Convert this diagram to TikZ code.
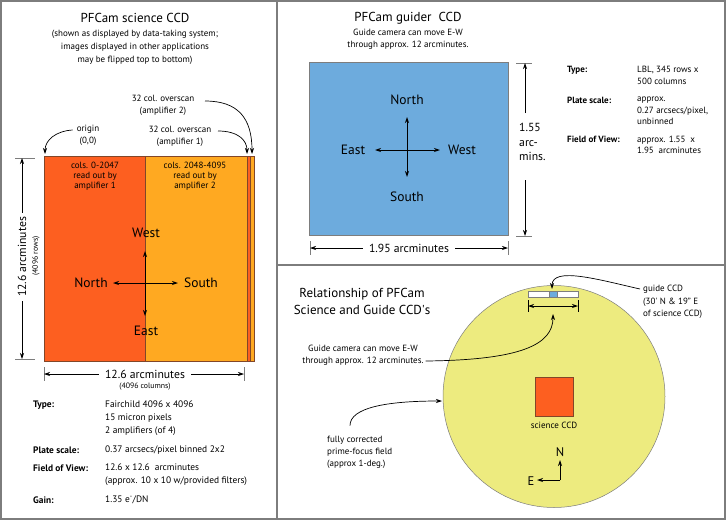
\documentclass[tikz,border=0pt]{standalone}
\usepackage{fontspec}
\setmainfont{PT Sans}
\usetikzlibrary{arrows.meta}
\definecolor{scired}{RGB}{253,95,32}
\definecolor{sciorange}{RGB}{255,169,33}
\definecolor{guideblue}{RGB}{109,171,221}
\definecolor{fieldyellow}{RGB}{237,235,127}
\definecolor{framegray}{RGB}{125,125,125}
\definecolor{ccdedge}{RGB}{130,70,40}

\begin{document}
\begin{tikzpicture}[x=1pt, y=-1pt,
    every node/.style={inner sep=0pt},
    ttl/.style={font=\fontsize{13}{15}\selectfont, align=center},
    txt/.style={font=\fontsize{9}{12}\selectfont, align=center},
    info/.style={font=\fontsize{9.4}{13}\selectfont, align=left, anchor=west},
    infohead/.style={info, font=\fontsize{9.4}{13}\selectfont\bfseries},
    ginfo/.style={font=\fontsize{9}{11.5}\selectfont, align=left, anchor=west},
    ginfohead/.style={ginfo, font=\fontsize{9}{11.5}\selectfont\bfseries},
    dirlbl/.style={font=\fontsize{13.5}{15}\selectfont},
    dimlbl/.style={font=\fontsize{11.7}{14.5}\selectfont},
    arr/.style={-{Stealth[length=6pt,width=4pt]}, line width=0.7pt},
    compass/.style={{Stealth[length=6pt,width=4pt]}-{Stealth[length=6pt,width=4pt]}, line width=0.9pt},
    tick/.style={line width=0.5pt, framegray},
    ccd/.style={draw=ccdedge, line width=0.6pt}]

\useasboundingbox (0,0) rectangle (727,525);

% panels
\draw[framegray, line width=1.2pt] (1,1) rectangle (725,519);
\draw[framegray, line width=1.2pt] (277,1) -- (277,519);
\draw[framegray, line width=1.2pt] (277,265) -- (725,265);

%%% science CCD
\node[ttl] (scititle) at (135,18) {PFCam science CCD};
\node[txt, font=\fontsize{9}{13}\selectfont] (scinote) at (135,47) {(shown as displayed by data-taking system;\\images displayed in other applications\\may be flipped top to bottom)};

\fill[scired]    (44,156) rectangle (145,361);
\fill[sciorange] (145,156) rectangle (247,361);
\fill[scired]    (247,156) rectangle (250,361);
\fill[sciorange] (250,156) rectangle (254,361);
\draw[ccd] (44,156) rectangle (254,361);
\draw[ccd] (145,156) -- (145,361);
\draw[ccd] (247,156) -- (247,361) (250,156) -- (250,361);

\node[txt, font=\fontsize{9}{9.7}\selectfont] (amp1) at (95,176) {cols. 0-2047\\read out by\\amplifier 1};
\node[txt, font=\fontsize{9}{9.7}\selectfont] (amp2) at (195,176) {cols. 2048-4095\\read out by\\amplifier 2};

\node[txt] (ov2) at (163,105) {32 col. overscan\\(amplifier 2)};
\node[txt] (ov1) at (180,136) {32 col. overscan\\(amplifier 1)};
\node[txt] (origin) at (88,135) {origin\\(0,0)};
\coordinate (ov2 tip) at (252,154);
\coordinate (ov1 tip) at (247,154);
\coordinate (origin tip) at (45,154);
\draw[arr] (205,101) .. controls (238,101) and (252,118) .. (ov2 tip);
\draw[arr] (218,131) .. controls (238,131) and (247,140) .. (ov1 tip);
\draw[arr] ([xshift=-4pt,yshift=5pt]origin.west) .. controls (56,131) and (45,140) .. (origin tip);

% compass
\node[dirlbl] (sW) at (146,233) {West};
\node[dirlbl] (sE) at (146,331) {East};
\node[dirlbl] (sN) at (91,283) {North};
\node[dirlbl] (sS) at (201,283) {South};
\coordinate (sup) at (145,251);
\coordinate (sdown) at (145,316);
\coordinate (sleft) at (113,283);
\coordinate (sright) at (178,283);
\draw[compass] (sup) -- (sdown);
\draw[compass] (sleft) -- (sright);

% dimensions
\draw[tick] (15,158) -- (35,158) (15,359) -- (35,359);
\node[dimlbl, rotate=90] (sciv) at (22,257) {12.6 arcminutes};
\node[font=\fontsize{7.8}{9}\selectfont, rotate=90] (sciv2) at (36,256) {(4096 rows)};
\draw[arr] ([yshift=4pt]sciv.east) -- (22,158);
\draw[arr] ([yshift=-4pt]sciv.west) -- (22,359);

\draw[tick] (44,367) -- (44,381) (244,367) -- (244,381);
\node[dimlbl] (scih) at (145,374) {12.6 arcminutes};
\node[font=\fontsize{7.8}{9}\selectfont] (scih2) at (145,387) {(4096 columns)};
\draw[arr] ([xshift=-6pt]scih.west) -- (44,374);
\draw[arr] ([xshift=6pt]scih.east) -- (244,374);

% science info
\node[infohead] (t1) at (33,405) {Type:};
\node[info] (v1) at (105,418) {Fairchild 4096 x 4096\\15 micron pixels\\2 amplifiers (of 4)};
\node[infohead] (t2) at (33,450) {Plate scale:};
\node[info] (v2) at (105,450) {0.37 arcsecs/pixel binned 2x2};
\node[infohead] (t3) at (33,468) {Field of View:};
\node[info] (v3) at (105,474.5) {12.6 x 12.6\ \ arcminutes\\(approx. 10 x 10 w/provided filters)};
\node[infohead] (t4) at (33,500) {Gain:};
\node[info] (v4) at (105,500) {1.35 e\textsuperscript{-}/DN};

%%% guider CCD
\node[ttl] (gtitle) at (408,18) {PFCam guider\ \ CCD};
\node[txt] (gnote) at (408,39) {Guide camera can move E-W\\through approx. 12 arcminutes.};
\fill[guideblue] (309,62) rectangle (508,235);
\draw[framegray, line width=0.6pt] (309,62) rectangle (508,235);

\node[dirlbl] (gN) at (407,100) {North};
\node[dirlbl] (gS) at (407,197) {South};
\node[dirlbl] (gE) at (353,150) {East};
\node[dirlbl] (gW) at (462,150) {West};
\coordinate (gup) at (407,117);
\coordinate (gdown) at (407,177);
\coordinate (gleft) at (375,150);
\coordinate (gright) at (440,150);
\draw[compass] (gup) -- (gdown);
\draw[compass] (gleft) -- (gright);

\draw[tick] (516,63) -- (532,63) (516,236) -- (532,236);
\node[dimlbl, align=left, anchor=west, font=\fontsize{11.7}{14.5}\selectfont] (gv) at (519,142) {1.55\\arc-\\mins.};
\coordinate (gvtop) at (525,63);
\coordinate (gvbot) at (525,236);
\draw[arr] (525,113) -- (gvtop);
\draw[arr] (525,180) -- (gvbot);

\draw[tick] (310,241) -- (310,255) (508,241) -- (508,255);
\node[dimlbl] (gh) at (409,248) {1.95 arcminutes};
\draw[arr] ([xshift=-6pt]gh.west) -- (310,248);
\draw[arr] ([xshift=6pt]gh.east) -- (508,248);

% guider info
\node[ginfohead] (gt1) at (567,70) {Type:};
\node[ginfo] (gv1) at (637,75.5) {LBL, 345 rows x\\500 columns};
\node[ginfohead] (gt2) at (567,100) {Plate scale:};
\node[ginfo] (gv2) at (637,111) {approx.\\0.27 arcsecs/pixel,\\unbinned};
\node[ginfohead] (gt3) at (567,139) {Field of View:};
\node[ginfo] (gv3) at (637,145) {approx. 1.55\ \ x\\1.95\ \ arcminutes};

%%% relationship
\node[ttl, font=\fontsize{13}{17}\selectfont] (reltitle) at (362,301) {Relationship of PFCam\\Science and Guide CCD\textquotesingle s};

\fill[fieldyellow] (554,396.5) circle (111);
\draw[framegray, line width=0.5pt] (554,396.5) circle (111);

\fill[white] (528,291) rectangle (578,297);
\fill[guideblue] (549,291) rectangle (557,297);
\draw[framegray, line width=0.5pt] (528,291) rectangle (578,297);
\draw[framegray, line width=0.5pt] (549,291) -- (549,297) (557,291) -- (557,297);

\draw[line width=0.5pt] (528,300) -- (528,312) (578,300) -- (578,312);
\coordinate (stripleft) at (528,306);
\coordinate (stripright) at (578,306);
\draw[compass, line width=0.8pt] (stripleft) -- (stripright);

\fill[scired] (535,377) rectangle (573,416);
\draw[ccd] (535,377) rectangle (573,416);
\node[txt] (scilbl) at (554,425) {science CCD};

\node[font=\fontsize{12.5}{14}\selectfont] (fN) at (560,452) {N};
\node[font=\fontsize{12.5}{14}\selectfont] (fE) at (531,481) {E};
\coordinate (fc) at (560,480);
\draw[arr, line width=0.9pt] (fc) -- (560,460);
\draw[arr, line width=0.9pt] (fc) -- (537,480);

\node[txt, align=left, anchor=west, font=\fontsize{9}{12.5}\selectfont] (gccd) at (643,302) {guide CCD\\(30\textquotesingle{} N \& 19" E\\of science CCD)};
\node[txt] (move) at (363,355) {Guide camera can move E-W\\through approx. 12 arcminutes.};
\node[txt, align=left, anchor=west] (field) at (327,452) {fully corrected\\prime-focus field\\(approx 1-deg.)};

\coordinate (striptop) at (552,289);
\coordinate (stripmid) at (553,314);
\coordinate (fieldedge) at (442,401);
\draw[arr] ([xshift=-3pt,yshift=13pt]gccd.west) .. controls (600,280) and (552,266) .. (striptop);
\draw[arr] ([xshift=2pt,yshift=-6pt]move.east) .. controls (520,360) and (553,345) .. (stripmid);
\draw[arr] ([xshift=23pt,yshift=10pt]field.north west) .. controls (350,408) and (385,401) .. (fieldedge);
\end{tikzpicture}
\end{document}
